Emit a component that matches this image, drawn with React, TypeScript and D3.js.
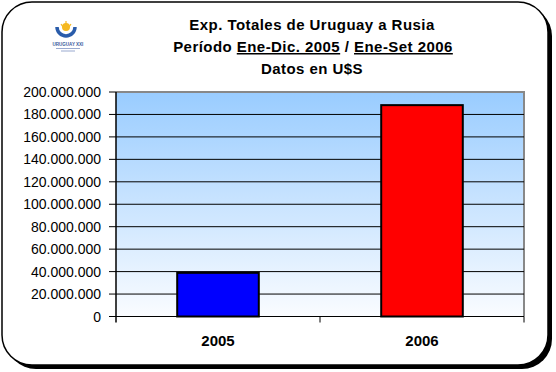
import React from "react";
import * as d3 from "d3";

const categories = ["2005", "2006"];
const values = [38900000, 188300000];
const barColors = ["#0000ff", "#ff0000"];
const yTicks = [0, 20000000, 40000000, 60000000, 80000000, 100000000, 120000000, 140000000, 160000000, 180000000, 200000000];

const fmt = (v: number) => {
  if (v === 0) return "0";
  const s = Math.round(v).toString();
  return s.replace(/\B(?=(\d{3})+(?!\d))/g, ".");
};

export default function App() {
  const W = 556, H = 372;
  const left = 116, right = 524, top = 92, bottom = 316.5;
  const x = d3.scaleBand<string>().domain(categories).range([left, right]).paddingInner(0.6).paddingOuter(0.3);
  const xb = d3.scaleBand<string>().domain(categories).range([left, right]);
  const y = d3.scaleLinear().domain([0, 200000000]).range([bottom, top]);
  const font = "Arial, 'Liberation Sans', sans-serif";
  return (
    <svg width={W} height={H} style={{ position: "absolute", left: 0, top: 0 }} fontFamily={font}>
      <defs>
        <linearGradient id="bg" x1="0" y1="0" x2="0" y2="1">
          <stop offset="0" stopColor="#99ccff" />
          <stop offset="1" stopColor="#fafcff" />
        </linearGradient>
      </defs>
      <rect x={0} y={0} width={W} height={H} fill="#fff" />
      {/* shadow */}
      <rect x={6} y={6} width={546} height={363} rx={30} ry={30} fill="#000" />
      <rect x={2} y={2} width={546} height={363} rx={30} ry={30} fill="#fff" stroke="#000" strokeWidth={1.5} />
      {/* logo */}
      <g>
        <path d="M 57 27 A 9 9 0 0 0 75 27" fill="none" stroke="#2a5caa" strokeWidth={3.5} />
        <circle cx={66} cy={27} r={4} fill="#f5b820" />
        <path d="M 61 24 L 63 27 M 71 24 L 69 27 M 66 21 L 66 24" stroke="#f5b820" strokeWidth={1.2} />
        <text x={68} y={46} textAnchor="middle" fontSize={4.5} fontWeight="bold" fill="#3a5a9a">URUGUAY XXI</text>
        <rect x={56} y={48} width={24} height={1} fill="#9aaad0" />
        <rect x={61} y={50.5} width={14} height={1} fill="#9aaad0" />
      </g>
      {/* title */}
      <g fontWeight="bold" fontSize={15} letterSpacing={0.45} textAnchor="middle" fill="#000">
        <text x={312} y={30}>Exp. Totales de Uruguay a Rusia</text>
        <text x={313} y={52}>
          Período <tspan textDecoration="underline">Ene-Dic. 2005</tspan> / <tspan textDecoration="underline">Ene-Set 2006</tspan>
        </text>
        <text x={312} y={74}>Datos en U$S</text>
      </g>
      {/* plot area */}
      <rect x={left} y={top} width={right - left} height={bottom - top} fill="url(#bg)" />
      <path d={`M${left},${top}H${right}V${bottom}`} fill="none" stroke="#888" strokeWidth={2} />
      {yTicks.filter((t) => t > 0 && t < 200000000).map((t) => (
        <line key={t} x1={left} x2={right} y1={y(t)} y2={y(t)} stroke="#000" strokeWidth={1} />
      ))}
      {categories.map((c, i) => (
        <rect key={c} x={x(c)} y={y(values[i])} width={x.bandwidth()} height={bottom - y(values[i])} fill={barColors[i]} stroke="#000" strokeWidth={2} />
      ))}
      {/* axes */}
      <line x1={left} x2={left} y1={top} y2={bottom + 6} stroke="#000" strokeWidth={1.5} />
      <line x1={left} x2={right} y1={bottom} y2={bottom} stroke="#000" strokeWidth={1} />
      {yTicks.map((t) => (
        <g key={t}>
          <line x1={left - 7} x2={left} y1={y(t)} y2={y(t)} stroke="#000" />
          <text x={101} y={y(t) + 5} textAnchor="end" fontSize={14} fill="#000">{fmt(t)}</text>
        </g>
      ))}
      {categories.map((c) => (
        <line key={c} x1={(xb(c) as number) + xb.bandwidth()} x2={(xb(c) as number) + xb.bandwidth()} y1={bottom} y2={bottom + 6} stroke="#000" />
      ))}
      {categories.map((c) => (
        <text key={c} x={(xb(c) as number) + xb.bandwidth() / 2} y={346} textAnchor="middle" fontSize={15} fontWeight="bold">{c}</text>
      ))}
    </svg>
  );
}
